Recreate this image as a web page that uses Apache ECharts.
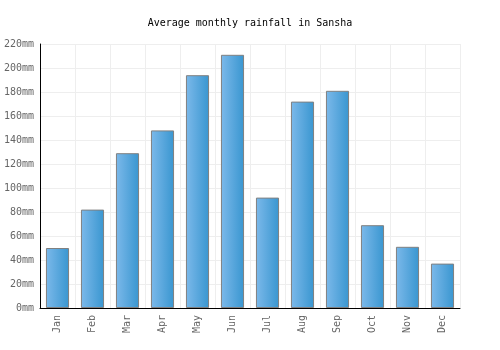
<!DOCTYPE html>
<html><head><meta charset="utf-8">
<script src="https://cdn.jsdelivr.net/npm/echarts@6/dist/echarts.min.js"></script>
<style>html,body{margin:0;padding:0;background:#fff}#c{width:500px;height:350px}</style>
</head><body><div id="c"></div>
<script>
const months = ['Jan','Feb','Mar','Apr','May','Jun','Jul','Aug','Sep','Oct','Nov','Dec'];
const rainfall = [50, 82, 129, 148, 194, 211, 92, 172, 181, 69, 51, 37];
const yTicks = {min: 0, max: 220, interval: 20};
const titleText = 'Average monthly rainfall in Sansha';
const font = '"DejaVu Sans Mono", monospace';

const chart = echarts.init(document.getElementById('c'), null, {renderer: 'canvas'});
chart.setOption({
  animation: false,
  title: {text: titleText, left: 'center', top: 13,
    textStyle: {fontFamily: font, fontSize: 10, fontWeight: 'normal', color: '#000'}},
  grid: {left: 40, right: 40, top: 44, bottom: 42, containLabel: false},
  xAxis: {type: 'category', data: months,
    axisLine: {lineStyle: {color: '#000', width: 1}},
    axisTick: {show: false},
    splitLine: {show: true, interval: 0, lineStyle: {color: '#eeeeee'}},
    axisLabel: {rotate: 90, interval: 0, fontFamily: font, fontSize: 10, color: '#666', margin: 7}},
  yAxis: {type: 'value', min: yTicks.min, max: yTicks.max, interval: yTicks.interval,
    axisLine: {show: true, lineStyle: {color: '#000', width: 1}},
    axisTick: {show: false},
    splitLine: {lineStyle: {color: '#eeeeee'}},
    axisLabel: {formatter: '{value}mm', fontFamily: font, fontSize: 10, color: '#666', margin: 6}},
  series: [{type: 'bar', data: rainfall, barCategoryGap: '34%',
    itemStyle: {
      color: new echarts.graphic.LinearGradient(0, 0, 1, 0, [
        {offset: 0, color: '#7cb9ea'}, {offset: 1, color: '#3996d0'}]),
      borderColor: '#808080', borderWidth: 1}
  }]
});
</script></body></html>
